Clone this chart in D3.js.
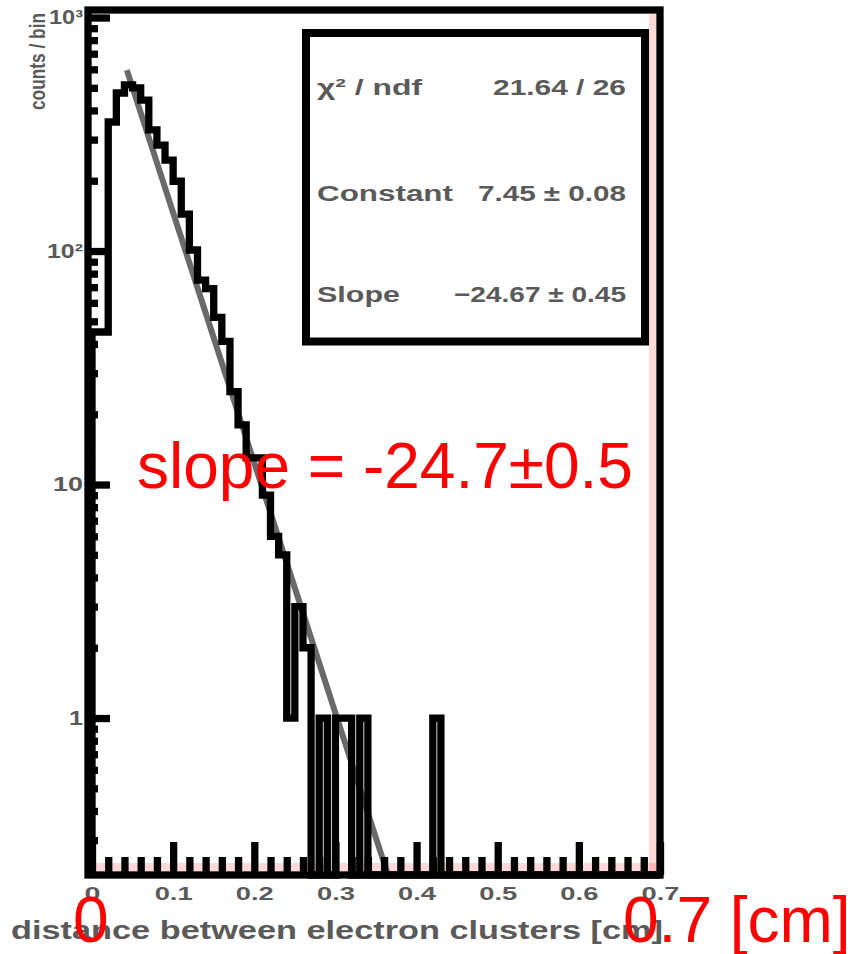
<!DOCTYPE html>
<html>
<head>
<meta charset="utf-8">
<script src="https://cdn.jsdelivr.net/npm/d3@7"></script>
<style>
  body { margin: 0; background: #ffffff; }
  svg { display: block; }
  .pix { font-family: "Liberation Sans", Arial, sans-serif; font-weight: bold; fill: #5a5a5a; }
  .note { font-family: "Liberation Sans", Arial, sans-serif; font-size: 64px; fill: #ff0000; }
</style>
</head>
<body>
<div id="chart"></div>
<script>
// canvas size
const svgWidth = 859,
    svgHeight = 954;

// histogram contents, 0.01 cm bins from 0 to 0.7
const binWidth = 0.01;
const counts = [
    45, 45, 357, 475, 515, 500, 443, 330, 284, 245,
    199, 144, 101, 75, 69, 52, 41, 25, 18, 13,
    13, 9, 6, 5, 1, 3, 2, 0, 1, 0,
    1, 1, 0, 1, 0, 0, 0, 0, 0, 0,
    0, 0, 1, 0, 0, 0, 0, 0, 0, 0,
    0, 0, 0, 0, 0, 0, 0, 0, 0, 0,
    0, 0, 0, 0, 0, 0, 0, 0, 0, 0
];

// axes
const xDomain = [0, 0.7];
const xMajorTicks = [0, 0.1, 0.2, 0.3, 0.4, 0.5, 0.6, 0.7];
const xTickLabels = ["0", "0.1", "0.2", "0.3", "0.4", "0.5", "0.6", "0.7"];
const yDomain = [0.2127, 1077];
const yMajorTicks = [1, 10, 100, 1000];
const yTickLabels = ["1", "10", "10²", "10³"];
const xTitle = "distance between electron clusters [cm]";
const yTitle = "counts / bin";

// exponential fit
const fitConstant = 7.45,
    fitSlope = -24.67,
    fitRange = [0.043, 0.40];

// stats box
const statNames = ["χ² / ndf", "Constant", "Slope"];
const statValues = ["21.64 / 26", "7.45 ± 0.08", "−24.67 ± 0.45"];

// red annotations
const slopeNote = "slope = -24.7±0.5";
const leftNote = "0";
const rightNote = "0.7 [cm]";

// frame (pixel box of the pad)
const frame = { left: 88, right: 660, top: 10, bottom: 875 },
    lineW = 7.3;

let svg = d3.select("#chart").append("svg")
    .attr("width", svgWidth)
    .attr("height", svgHeight);

// scales
let x = d3.scaleLinear()
    .domain(xDomain)
    .range([92, frame.right]);
let y = d3.scaleLog()
    .domain(yDomain)
    .range([frame.bottom, frame.top])
    .clamp(true);

// stretched pixel-ish text helper
function stretch(sel, w) {
    sel.attr("textLength", w).attr("lengthAdjust", "spacingAndGlyphs");
}

// faint red guide lines along bottom and right
svg.append("line")
    .attr("x1", 92).attr("x2", 656)
    .attr("y1", 867.5).attr("y2", 867.5)
    .attr("stroke", "#ff0000").attr("stroke-opacity", 0.15).attr("stroke-width", 9);
svg.append("line")
    .attr("x1", 652.5).attr("x2", 652.5)
    .attr("y1", 14).attr("y2", 871)
    .attr("stroke", "#ff0000").attr("stroke-opacity", 0.15).attr("stroke-width", 7);

// clip for the fit
svg.append("clipPath").attr("id", "frameClip")
    .append("rect")
    .attr("x", frame.left).attr("y", frame.top)
    .attr("width", frame.right - frame.left)
    .attr("height", frame.bottom - frame.top - 4);

// fit line
let fitPts = d3.range(fitRange[0], fitRange[1], 0.002)
    .map((v) => [x(v), y(Math.exp(fitConstant + fitSlope * v))]);
svg.append("path")
    .attr("d", d3.line()(fitPts))
    .attr("clip-path", "url(#frameClip)")
    .attr("fill", "none")
    .attr("stroke", "#6a6a6a")
    .attr("stroke-width", 6);

// histogram outline
let yBase = y.range()[0];
let histPts = [[x(0), yBase]];
counts.forEach((c, i) => {
    let yy = c > 0 ? y(c) : yBase;
    histPts.push([x(i * binWidth), yy], [x((i + 1) * binWidth), yy]);
});
histPts.push([x(xDomain[1]), yBase]);
svg.append("path")
    .attr("d", d3.line()(histPts))
    .attr("fill", "none")
    .attr("stroke", "#000")
    .attr("stroke-width", lineW)
    .attr("stroke-linejoin", "miter");

// x axis: minor + major ticks pointing up into the frame
let xMinor = d3.range(0, 0.7001, 0.02).filter((v) => Math.abs(v * 10 - Math.round(v * 10)) > 1e-6);
let xMinorAxis = svg.append("g")
    .attr("transform", `translate(0, ${frame.bottom})`)
    .call(d3.axisBottom(x).tickValues(xMinor).tickSizeInner(-18).tickSizeOuter(0).tickFormat(""));
let xAxis = svg.append("g")
    .attr("transform", `translate(0, ${frame.bottom})`)
    .call(d3.axisBottom(x).tickValues(xMajorTicks).tickSizeInner(-33).tickSizeOuter(0)
        .tickPadding(12).tickFormat((d, i) => xTickLabels[i]));

// y axis: log minor + major ticks pointing right
let yMinor = [];
[0.1, 1, 10, 100].forEach((dec) => {
    for (let m = 2; m <= 9; m++) {
        let v = m * dec;
        if (v >= yDomain[0] && v <= yDomain[1]) yMinor.push(v);
    }
});
let yMinorAxis = svg.append("g")
    .attr("transform", `translate(${frame.left}, 0)`)
    .call(d3.axisLeft(y).tickValues(yMinor).tickSizeInner(-10).tickSizeOuter(0).tickFormat(""));
let yAxis = svg.append("g")
    .attr("transform", `translate(${frame.left}, 0)`)
    .call(d3.axisLeft(y).tickValues(yMajorTicks).tickSizeInner(-22).tickSizeOuter(0)
        .tickPadding(5).tickFormat((d, i) => yTickLabels[i]));

[xMinorAxis, xAxis, yMinorAxis, yAxis].forEach((g) => {
    g.select(".domain").remove();
    g.selectAll(".tick line").attr("stroke", "#000").attr("stroke-width", lineW);
});

xAxis.selectAll(".tick text")
    .attr("class", "pix")
    .attr("font-size", 19)
    .each(function (d, i) { stretch(d3.select(this), i === 0 ? 16 : 38); });
yAxis.selectAll(".tick text")
    .attr("class", "pix")
    .attr("font-size", 20)
    .each(function (d, i) { stretch(d3.select(this), [14, 30, 36, 34][i]); });

// frame
svg.append("rect")
    .attr("x", frame.left).attr("y", frame.top)
    .attr("width", frame.right - frame.left)
    .attr("height", frame.bottom - frame.top)
    .attr("fill", "none")
    .attr("stroke", "#000")
    .attr("stroke-width", lineW);

// axis titles
svg.append("text")
    .attr("class", "pix")
    .attr("x", 11).attr("y", 939)
    .attr("font-size", 26)
    .text(xTitle)
    .call(stretch, 652);
svg.append("text")
    .attr("class", "pix")
    .attr("transform", "translate(45, 13) rotate(-90)")
    .attr("text-anchor", "end")
    .attr("font-size", 22)
    .text(yTitle)
    .call(stretch, 97);

// stats box
svg.append("rect")
    .attr("x", 306).attr("y", 33)
    .attr("width", 339).attr("height", 308.5)
    .attr("fill", "#fff")
    .attr("stroke", "#000")
    .attr("stroke-width", 8);
const statRowY = [95, 201, 302],
    nameW = [105, 136, 83],
    valueW = [133, 148, 172];
statNames.forEach((s, i) => {
    svg.append("text")
        .attr("class", "pix")
        .attr("x", 317).attr("y", statRowY[i])
        .attr("font-size", 22)
        .text(s)
        .call(stretch, nameW[i]);
    svg.append("text")
        .attr("class", "pix")
        .attr("x", 626).attr("y", statRowY[i])
        .attr("text-anchor", "end")
        .attr("font-size", 22)
        .text(statValues[i])
        .call(stretch, valueW[i]);
});

// red annotations on top
svg.append("text").attr("class", "note").attr("x", 137).attr("y", 488).text(slopeNote);
svg.append("text").attr("class", "note").attr("x", 73).attr("y", 942).text(leftNote);
svg.append("text").attr("class", "note").attr("x", 623).attr("y", 942).text(rightNote);
</script>
</body>
</html>
